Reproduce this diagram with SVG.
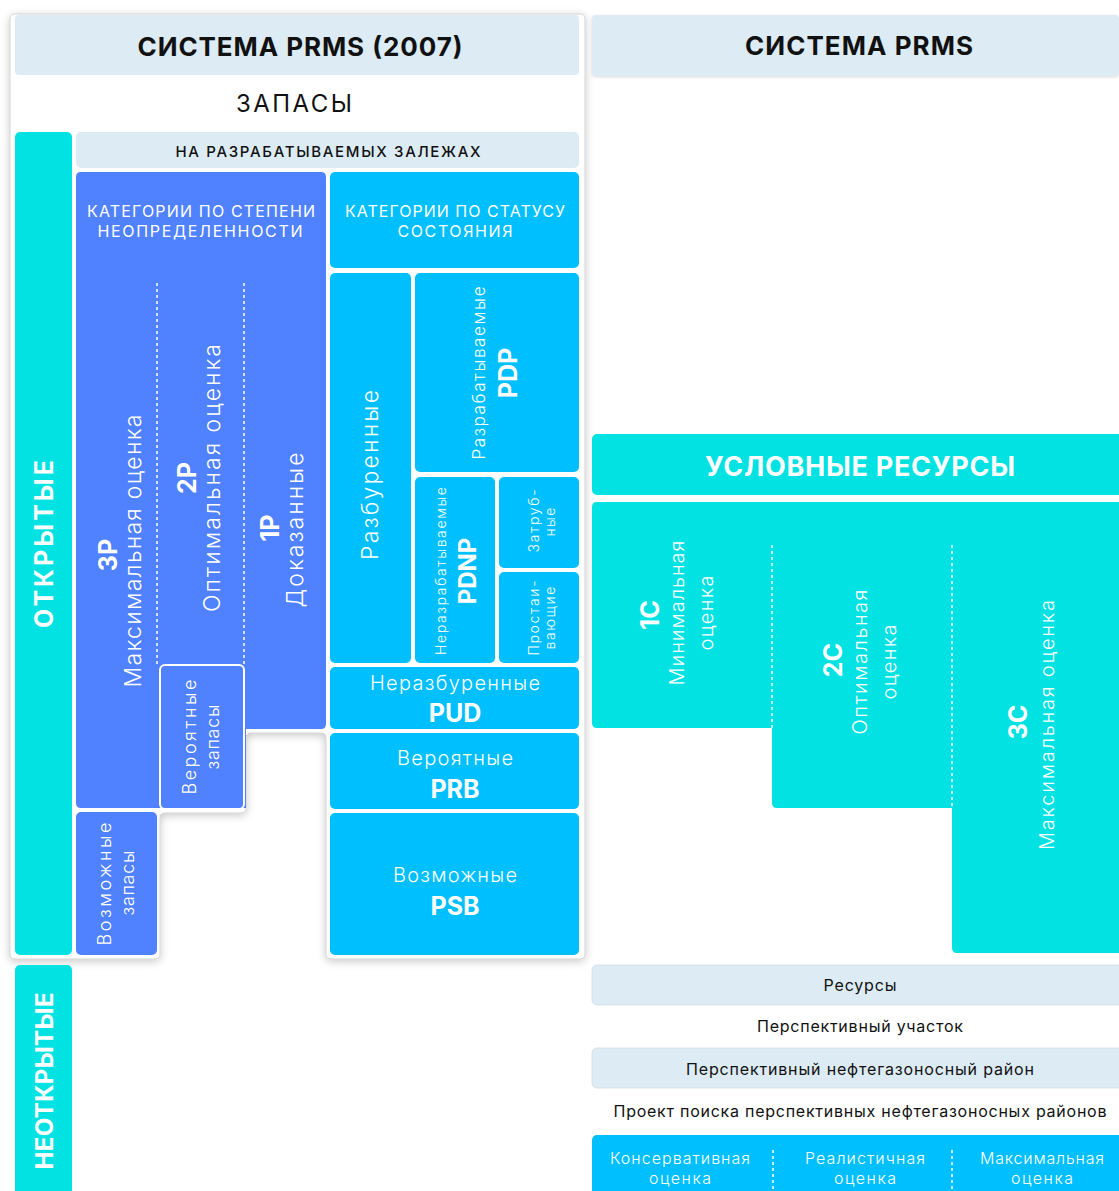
<svg xmlns="http://www.w3.org/2000/svg" width="1119" height="1191" viewBox="0 0 1119 1191">
<defs>
<filter id="sh" x="-10%" y="-10%" width="120%" height="120%">
<feDropShadow dx="0" dy="2" stdDeviation="4" flood-color="#000" flood-opacity="0.22"/>
</filter>
<filter id="sh2" x="-10%" y="-30%" width="120%" height="160%">
<feDropShadow dx="0" dy="1" stdDeviation="1.5" flood-color="#000" flood-opacity="0.15"/>
</filter>
</defs>
<style>
text{font-family:Inter,"Noto Sans",sans-serif;text-anchor:middle;dominant-baseline:central}
.w{fill:#fff}
.k{fill:#111}
.b{font-weight:700}
.lt{font-weight:300}
.hdr{fill:#dcebf4}
.cy{fill:#02e2e2}
.bl{fill:#5081ff}
.sk{fill:#00bfff}
.dot{stroke:#fff;stroke-width:1.5;stroke-dasharray:3 3;fill:none}
</style>
<rect width="1119" height="1191" fill="#fff"/>

<g id="left-card">
<path d="M15,14 H580 Q585,14 585,19 V954 Q585,959 580,959 H331 Q326,959 326,954 V738 Q326,733 321,733 H251 Q246,733 246,738 V808 Q246,813 241,813 H165 Q160,813 160,818 V954 Q160,959 155,959 H15 Q10,959 10,954 V19 Q10,14 15,14 Z" fill="#fff" stroke="#c8c8c8" stroke-width="0.8" filter="url(#sh)"/>
</g>

<g id="hdr-left">
<rect class="hdr" x="15" y="15" width="564" height="60" rx="4"/>
<text class="k b" x="300" y="46" font-size="26" textLength="325" lengthAdjust="spacing">СИСТЕМА PRMS (2007)</text>
</g>
<g id="hdr-right">
<rect class="hdr" x="592" y="15" width="527" height="61" rx="4" filter="url(#sh2)"/>
<text class="k b" x="859" y="45" font-size="26" textLength="228" lengthAdjust="spacing">СИСТЕМА PRMS</text>
</g>

<g id="zapasy"><text class="k" x="294" y="103" font-size="24" textLength="116" lengthAdjust="spacing">ЗАПАСЫ</text></g>

<g id="otkrytye">
<rect class="cy" x="15" y="132" width="57" height="823" rx="5"/>
<text class="w b" transform="translate(44,544) rotate(-90)" font-size="25" textLength="168" lengthAdjust="spacing">ОТКРЫТЫЕ</text>
</g>

<g id="neotkrytye">
<rect class="cy" x="15" y="965" width="57" height="240" rx="5"/>
<text class="w b" transform="translate(44,1081) rotate(-90)" font-size="24" textLength="177" lengthAdjust="spacing">НЕОТКРЫТЫЕ</text>
</g>

<g id="na-razrab">
<rect class="hdr" x="76" y="132" width="503" height="36" rx="5"/>
<text class="k" x="328" y="151" font-size="15" font-weight="500" textLength="305" lengthAdjust="spacing">НА РАЗРАБАТЫВАЕМЫХ ЗАЛЕЖАХ</text>
</g>

<g id="uncertainty">
<path class="bl" d="M81,172 H321 Q326,172 326,177 V724 Q326,729 321,729 H246 V808 H81 Q76,808 76,803 V177 Q76,172 81,172 Z"/>
<text class="w" x="201" y="211" font-size="16" textLength="228" lengthAdjust="spacing">КАТЕГОРИИ ПО СТЕПЕНИ</text>
<text class="w" x="200" y="231" font-size="16" textLength="205" lengthAdjust="spacing">НЕОПРЕДЕЛЕННОСТИ</text>
</g>

<g id="3p">
<text class="w b" transform="translate(108,555) rotate(-90)" font-size="25">3P</text>
<text class="w lt" transform="translate(133,551) rotate(-90)" font-size="23" textLength="273" lengthAdjust="spacing">Максимальная оценка</text>
</g>
<g id="2p">
<text class="w b" transform="translate(187,478) rotate(-90)" font-size="25">2P</text>
<text class="w lt" transform="translate(212,478) rotate(-90)" font-size="23" textLength="268" lengthAdjust="spacing">Оптимальная оценка</text>
</g>
<g id="1p">
<text class="w b" transform="translate(270,528) rotate(-90)" font-size="25">1P</text>
<text class="w lt" transform="translate(295,530) rotate(-90)" font-size="23" textLength="155" lengthAdjust="spacing">Доказанные</text>
</g>
<g id="veroyatnye-zapasy">
<rect class="bl" x="160" y="665" width="84" height="144" rx="5" stroke="#fff" stroke-width="2"/>
<text class="w lt" transform="translate(189,737) rotate(-90)" font-size="18" textLength="115" lengthAdjust="spacing">Вероятные</text>
<text class="w lt" transform="translate(212,737) rotate(-90)" font-size="18" textLength="65" lengthAdjust="spacing">запасы</text>
</g>
<g id="vozmozhnye-zapasy">
<rect class="bl" x="76" y="812" width="81" height="143" rx="5"/>
<text class="w lt" transform="translate(104,884) rotate(-90)" font-size="18" textLength="123" lengthAdjust="spacing">Возможные</text>
<text class="w lt" transform="translate(127,883) rotate(-90)" font-size="18" textLength="65" lengthAdjust="spacing">запасы</text>
</g>

<g id="status">
<rect class="sk" x="330" y="172" width="249" height="96" rx="5"/>
<text class="w" x="455" y="211" font-size="16" textLength="220" lengthAdjust="spacing">КАТЕГОРИИ ПО СТАТУСУ</text>
<text class="w" x="455" y="231" font-size="16" textLength="115" lengthAdjust="spacing">СОСТОЯНИЯ</text>
</g>
<g id="razburennye">
<rect class="sk" x="330" y="273" width="81" height="390" rx="5"/>
<text class="w lt" transform="translate(370,475) rotate(-90)" font-size="23" textLength="170" lengthAdjust="spacing">Разбуренные</text>
</g>
<g id="pdp">
<rect class="sk" x="415" y="273" width="164" height="199" rx="5"/>
<text class="w lt" transform="translate(479,373) rotate(-90)" font-size="17" textLength="173" lengthAdjust="spacing">Разрабатываемые</text>
<text class="w b" transform="translate(508,373) rotate(-90)" font-size="25">PDP</text>
</g>
<g id="pdnp">
<rect class="sk" x="415" y="477" width="80" height="186" rx="5"/>
<text class="w lt" transform="translate(440,571) rotate(-90)" font-size="14" textLength="168" lengthAdjust="spacing">Неразрабатываемые</text>
<text class="w b" transform="translate(467,571) rotate(-90)" font-size="24">PDNP</text>
</g>
<g id="zatrubnye">
<rect class="sk" x="499" y="477" width="80" height="91" rx="5"/>
<text class="w lt" transform="translate(533,521) rotate(-90)" font-size="14" textLength="63" lengthAdjust="spacing">Затруб-</text>
<text class="w lt" transform="translate(549,522) rotate(-90)" font-size="14" textLength="29" lengthAdjust="spacing">ные</text>
</g>
<g id="prostaivayushchie">
<rect class="sk" x="499" y="572" width="80" height="91" rx="5"/>
<text class="w lt" transform="translate(533,618) rotate(-90)" font-size="14" textLength="75" lengthAdjust="spacing">Простаи-</text>
<text class="w lt" transform="translate(549,618) rotate(-90)" font-size="14" textLength="63" lengthAdjust="spacing">вающие</text>
</g>
<g id="pud">
<rect class="sk" x="330" y="667" width="249" height="62" rx="5"/>
<text class="w lt" x="455" y="683" font-size="20" textLength="170" lengthAdjust="spacing">Неразбуренные</text>
<text class="w b" x="455" y="713" font-size="25">PUD</text>
</g>
<g id="prb">
<rect class="sk" x="330" y="733" width="249" height="76" rx="5"/>
<text class="w lt" x="455" y="758" font-size="20" textLength="116" lengthAdjust="spacing">Вероятные</text>
<text class="w b" x="455" y="789" font-size="25">PRB</text>
</g>
<g id="psb">
<rect class="sk" x="330" y="813" width="249" height="142" rx="5"/>
<text class="w lt" x="455" y="875" font-size="20" textLength="124" lengthAdjust="spacing">Возможные</text>
<text class="w b" x="455" y="906" font-size="25">PSB</text>
</g>

<g id="uslovnye">
<rect class="cy" x="592" y="434" width="532" height="61" rx="5"/>
<text class="w b" x="860" y="466" font-size="27" textLength="310" lengthAdjust="spacing">УСЛОВНЫЕ РЕСУРСЫ</text>
</g>
<g id="c-steps">
<path class="cy" d="M597,502 H1124 V953 H957 Q952,953 952,948 V808 H777 Q772,808 772,803 V728 H597 Q592,728 592,723 V507 Q592,502 597,502 Z"/>
</g>
<g id="1c">
<text class="w b" transform="translate(650,615) rotate(-90)" font-size="25">1C</text>
<text class="w lt" transform="translate(677,613) rotate(-90)" font-size="20" textLength="145" lengthAdjust="spacing">Минимальная</text>
<text class="w lt" transform="translate(706,613) rotate(-90)" font-size="20" textLength="75" lengthAdjust="spacing">оценка</text>
</g>
<g id="2c">
<text class="w b" transform="translate(833,660) rotate(-90)" font-size="25">2C</text>
<text class="w lt" transform="translate(860,662) rotate(-90)" font-size="20" textLength="145" lengthAdjust="spacing">Оптимальная</text>
<text class="w lt" transform="translate(889,662) rotate(-90)" font-size="20" textLength="75" lengthAdjust="spacing">оценка</text>
</g>
<g id="3c">
<text class="w b" transform="translate(1018,722) rotate(-90)" font-size="25">3C</text>
<text class="w lt" transform="translate(1047,725) rotate(-90)" font-size="20" textLength="250" lengthAdjust="spacing">Максимальная оценка</text>
</g>

<g id="resursy">
<rect class="hdr" x="592" y="965" width="532" height="40" rx="5" stroke="#d0dce5" stroke-width="0.8"/>
<text class="k" x="860" y="985" font-size="16" textLength="73" lengthAdjust="spacing">Ресурсы</text>
</g>
<g id="persp-uchastok"><text class="k" x="860" y="1026" font-size="16" textLength="206" lengthAdjust="spacing">Перспективный участок</text></g>
<g id="persp-rayon">
<rect class="hdr" x="592" y="1048" width="532" height="40" rx="5" stroke="#d0dce5" stroke-width="0.8"/>
<text class="k" x="860" y="1069" font-size="16" textLength="348" lengthAdjust="spacing">Перспективный нефтегазоносный район</text>
</g>
<g id="proekt"><text class="k" x="860" y="1111" font-size="16" textLength="493" lengthAdjust="spacing">Проект поиска перспективных нефтегазоносных районов</text></g>
<g id="estimates">
<rect class="sk" x="592" y="1135" width="532" height="70" rx="5"/>
<text class="w lt" x="680" y="1158" font-size="16" textLength="140" lengthAdjust="spacing">Консервативная</text>
<text class="w lt" x="680" y="1178" font-size="16" textLength="62" lengthAdjust="spacing">оценка</text>
<text class="w lt" x="865" y="1158" font-size="16" textLength="120" lengthAdjust="spacing">Реалистичная</text>
<text class="w lt" x="865" y="1178" font-size="16" textLength="62" lengthAdjust="spacing">оценка</text>
<text class="w lt" x="1042" y="1158" font-size="16" textLength="124" lengthAdjust="spacing">Максимальная</text>
<text class="w lt" x="1042" y="1178" font-size="16" textLength="62" lengthAdjust="spacing">оценка</text>
</g>

<g id="connectors">
<line class="dot" x1="157" y1="283" x2="157" y2="665"/>
<line class="dot" x1="244" y1="283" x2="244" y2="665"/>
<line class="dot" x1="772" y1="545" x2="772" y2="728"/>
<line class="dot" x1="952" y1="545" x2="952" y2="808"/>
<line class="dot" x1="773" y1="1150" x2="773" y2="1191"/>
<line class="dot" x1="952" y1="1150" x2="952" y2="1191"/>
</g>
</svg>
